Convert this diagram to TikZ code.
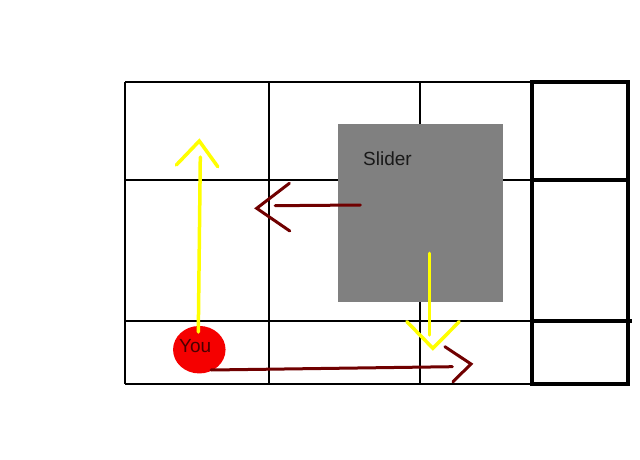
\documentclass[tikz,border=0pt]{standalone}
\usepackage{fontspec}
\setmainfont{Liberation Sans}
\usetikzlibrary{shapes.geometric}
\definecolor{darkred}{HTML}{700000}
\definecolor{ylw}{HTML}{FFFF00}
\definecolor{slgray}{HTML}{808080}
\definecolor{youred}{HTML}{F50000}
\definecolor{youtext}{HTML}{4A0000}
\tikzset{
  thin grid/.style={line width=2pt, black},
  thick grid/.style={line width=3.3pt, black},
  ymove/.style={line width=3.5pt, ylw, line cap=round, line join=miter},
  rmove/.style={line width=3pt, darkred, line cap=round, line join=miter},
  lbl/.style={font=\fontsize{19}{22}\selectfont, inner sep=0pt, anchor=base west}
}
\begin{document}
\begin{tikzpicture}[x=1pt, y=-1pt]
\useasboundingbox (0,0) rectangle (640,460);
% grid
\draw[thin grid] (125,82) -- (532,82);
\draw[thin grid] (125,180) -- (532,180);
\draw[thin grid] (125,321) -- (532,321);
\draw[thin grid] (125,384) -- (532,384);
\draw[thin grid] (125,82) -- (125,384);
\draw[thin grid] (269,82) -- (269,384);
\draw[thin grid] (420,82) -- (420,384);
% right thick column
\draw[thick grid] (532,82) rectangle (628,384);
\draw[thick grid] (532,180) -- (628,180);
\draw[thick grid] (532,321) -- (632,321);
% slider
\node[fill=slgray, draw=none, minimum width=165pt, minimum height=178pt, inner sep=0pt, anchor=north west] (slider) at (338,124) {};
\node[lbl, text=black!90] (sliderlbl) at (363,165) {Slider};
% you
\node[ellipse, fill=youred, draw=none, minimum width=52.5pt, minimum height=47.5pt, inner sep=0pt] (you) at (199.3,349.7) {};
\node[lbl, text=youtext] (youlbl) at (179,352) {You};
% yellow up arrow
\coordinate (ua) at (198.3,332);
\coordinate (ub) at (200.3,157);
\coordinate (uh1) at (176.3,165);
\coordinate (uh2) at (199.3,141);
\coordinate (uh3) at (217.8,166.7);
\draw[ymove] (ua) -- (ub);
\draw[ymove] (uh1) -- (uh2) -- (uh3);
% dark red left arrow
\coordinate (la) at (360.3,205);
\coordinate (lb) at (275.2,205.7);
\coordinate (lh1) at (289.4,183.3);
\coordinate (lh2) at (256.7,208.3);
\coordinate (lh3) at (289.8,231);
\draw[rmove] (la) -- (lb);
\draw[rmove] (lh1) -- (lh2) -- (lh3);
% yellow down arrow
\coordinate (da) at (429.5,253.3);
\coordinate (db) at (429.5,335);
\coordinate (dh1) at (406.9,321.7);
\coordinate (dh2) at (432.9,348.3);
\coordinate (dh3) at (459.2,321.7);
\draw[ymove] (da) -- (db);
\draw[ymove] (dh1) -- (dh2) -- (dh3);
% dark red right arrow
\coordinate (ra) at (211,370);
\coordinate (rb) at (452.4,366.7);
\coordinate (rh1) at (444.9,346.7);
\coordinate (rh2) at (471,364);
\coordinate (rh3) at (453,381.7);
\draw[rmove] (ra) -- (rb);
\draw[rmove] (rh1) -- (rh2) -- (rh3);
\end{tikzpicture}
\end{document}
